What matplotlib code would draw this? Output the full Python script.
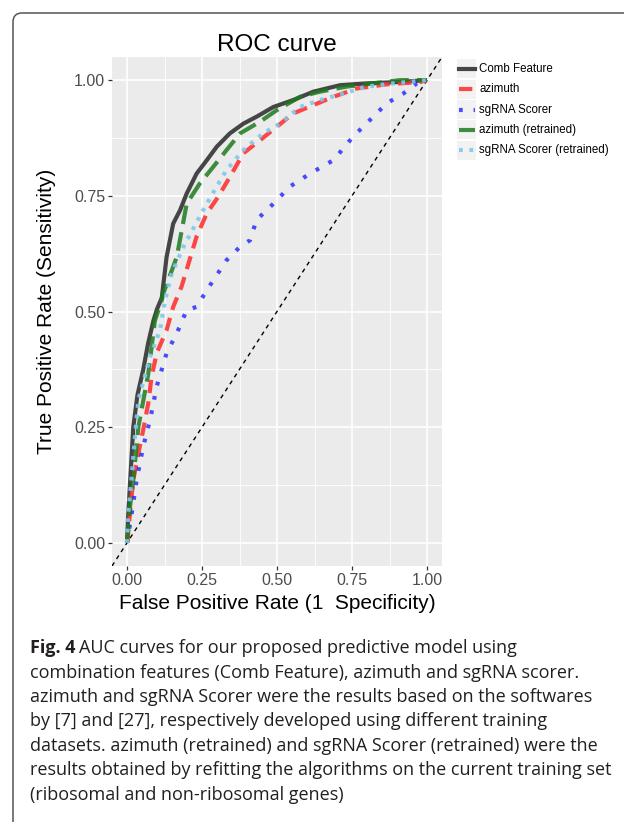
import numpy as np
import matplotlib
matplotlib.use("Agg")
import matplotlib.pyplot as plt
from matplotlib.patches import FancyBboxPatch, Rectangle
from matplotlib.lines import Line2D

# ── Datos ─────────────────────────────────────────────────────────────────────
SERIES = ["Comb Feature", "azimuth", "sgRNA Scorer",
          "azimuth (retrained)", "sgRNA Scorer (retrained)"]

comb_fpr = [0.0, 0.004, 0.012, 0.021, 0.035, 0.054, 0.070, 0.088, 0.100, 0.116, 0.132,
            0.154, 0.177, 0.199, 0.232, 0.266, 0.299, 0.343, 0.388, 0.432, 0.488,
            0.554, 0.621, 0.710, 0.799, 0.910, 1.0]
comb_tpr = [0.0, 0.060, 0.150, 0.251, 0.320, 0.374, 0.430, 0.480, 0.505, 0.530, 0.618,
            0.690, 0.719, 0.755, 0.798, 0.827, 0.856, 0.885, 0.906, 0.921, 0.942,
            0.957, 0.975, 0.989, 0.993, 0.996, 1.0]

azi_fpr = [0.0, 0.004, 0.012, 0.021, 0.040, 0.054, 0.071, 0.082, 0.099, 0.132, 0.154,
           0.182, 0.232, 0.266, 0.304, 0.343, 0.388, 0.443, 0.499, 0.554, 0.621,
           0.688, 0.766, 0.866, 0.977, 1.0]
azi_tpr = [0.0, 0.021, 0.080, 0.136, 0.200, 0.244, 0.302, 0.359, 0.410, 0.460, 0.510,
           0.554, 0.662, 0.712, 0.748, 0.791, 0.842, 0.870, 0.899, 0.928, 0.946,
           0.964, 0.982, 0.991, 0.996, 1.0]

sg_fpr = [0.0, 0.010, 0.021, 0.032, 0.054, 0.077, 0.099, 0.132, 0.166, 0.199, 0.232,
          0.266, 0.332, 0.377, 0.410, 0.432, 0.488, 0.543, 0.610, 0.688, 0.754,
          0.810, 0.866, 0.921, 0.966, 1.0]
sg_tpr = [0.0, 0.040, 0.086, 0.136, 0.208, 0.266, 0.338, 0.410, 0.453, 0.503, 0.510,
          0.546, 0.611, 0.640, 0.654, 0.698, 0.733, 0.770, 0.798, 0.827, 0.878,
          0.914, 0.950, 0.971, 0.993, 1.0]

azi_rt_fpr = [0.0, 0.004, 0.010, 0.021, 0.038, 0.055, 0.071, 0.093, 0.116, 0.121, 0.166,
              0.199, 0.243, 0.288, 0.332, 0.377, 0.443, 0.499, 0.577, 0.643, 0.732,
              0.821, 0.910, 1.0]
azi_rt_tpr = [0.0, 0.030, 0.078, 0.136, 0.251, 0.310, 0.366, 0.480, 0.525, 0.539, 0.618,
              0.733, 0.777, 0.813, 0.849, 0.885, 0.910, 0.935, 0.964, 0.975, 0.986,
              0.993, 1.0, 1.0]

sg_rt_fpr = [0.0, 0.004, 0.014, 0.025, 0.038, 0.077, 0.110, 0.127, 0.149, 0.188, 0.254,
             0.299, 0.332, 0.388, 0.454, 0.510, 0.577, 0.643, 0.721, 0.799, 0.888, 1.0]
sg_rt_tpr = [0.0, 0.063, 0.130, 0.220, 0.309, 0.402, 0.460, 0.525, 0.582, 0.640, 0.719,
             0.770, 0.806, 0.849, 0.885, 0.906, 0.942, 0.957, 0.971, 0.986, 0.993, 1.0]

CURVES = [(comb_fpr, comb_tpr), (azi_fpr, azi_tpr), (sg_fpr, sg_tpr),
          (azi_rt_fpr, azi_rt_tpr), (sg_rt_fpr, sg_rt_tpr)]
STYLES = [
    dict(color="#333333", ls="-", lw=3.0, alpha=0.9),
    dict(color="#FF3333", ls=(0, (3.2, 2.0)), lw=3.0, alpha=0.9),
    dict(color="#2222FF", ls=(0, (0.9, 2.6)), lw=3.0, alpha=0.8),
    dict(color="#1E7B1E", ls=(0, (4.5, 2.0)), lw=3.0, alpha=0.85),
    dict(color="#7EC8EE", ls=(0, (0.9, 1.6)), lw=3.0, alpha=0.9),
]

CAPTION = [
    "AUC curves for our proposed predictive model using",
    "combination features (Comb Feature), azimuth and sgRNA scorer.",
    "azimuth and sgRNA Scorer were the results based on the softwares",
    "by [7] and [27], respectively developed using different training",
    "datasets. azimuth (retrained) and sgRNA Scorer (retrained) were the",
    "results obtained by refitting the algorithms on the current training set",
    "(ribosomal and non-ribosomal genes)",
]

W, H = 624, 822
plt.rcParams["font.family"] = ["Liberation Sans", "DejaVu Sans"]

fig = plt.figure(figsize=(W / 100, H / 100), dpi=100)

def px(x, y):
    # píxeles (origen arriba-izquierda) -> fracción de figura
    return x / W, 1 - y / H

# ── Marco redondeado ──────────────────────────────────────────────────────────
frame = FancyBboxPatch((0.13, -0.5), 7.0, 8.59, boxstyle="round,pad=0,rounding_size=0.09",
                       transform=fig.dpi_scale_trans, fill=False, ec="#555555", lw=1.1)
fig.add_artist(frame)

# ── Panel ─────────────────────────────────────────────────────────────────────
x0, y0 = px(112, 566)
x1, y1 = px(442, 57)
ax = fig.add_axes([x0, y0, x1 - x0, y1 - y0])
ax.set_facecolor("#EBEBEB")
for s in ax.spines.values():
    s.set_visible(False)

ticks = [0.0, 0.25, 0.5, 0.75, 1.0]
ax.set_xticks(ticks)
ax.set_yticks(ticks)
ax.set_xticks([0.125, 0.375, 0.625, 0.875], minor=True)
ax.set_yticks([0.125, 0.375, 0.625, 0.875], minor=True)
ax.set_xticklabels([f"{t:.2f}" for t in ticks])
ax.set_yticklabels([f"{t:.2f}" for t in ticks])
ax.grid(which="major", color="white", lw=1.2)
ax.grid(which="minor", color="white", lw=0.6)
ax.set_axisbelow(True)
ax.tick_params(which="major", length=3, width=0.9, color="#333333",
               labelsize=11.5, labelcolor="#4D4D4D", pad=2)
ax.tick_params(which="minor", length=0)
ax.set_xlim(-0.05, 1.05)
ax.set_ylim(-0.05, 1.05)

ax.axline((0, 0), (1, 1), color="black", ls=(0, (3, 3)), lw=1.0)
for (fpr, tpr), st in zip(CURVES, STYLES):
    ax.plot(fpr, tpr, solid_capstyle="butt", **st)

ax.set_title("ROC curve", fontsize=17.5, pad=4)
ax.set_xlabel("False Positive Rate (1  Specificity)", fontsize=15, labelpad=4)
ax.set_ylabel("True Positive Rate (Sensitivity)", fontsize=15, labelpad=13)

# ── Leyenda manual (con fondo gris en las claves, estilo ggplot) ──────────────
for i, (name, st) in enumerate(zip(SERIES, STYLES)):
    cy = 69 + i * 20.3
    bx, by = px(457, cy + 9.5)
    fig.add_artist(Rectangle((bx, by), 19 / W, 19 / H, transform=fig.transFigure,
                             fc="#F2F2F2", ec="none"))
    lx0, ly = px(459, cy)
    lx1, _ = px(475, cy)
    fig.add_artist(Line2D([lx0, lx1], [ly, ly], transform=fig.transFigure, **st))
    tx, ty = px(479, cy)
    fig.text(tx, ty, name, fontsize=8.3, va="center", ha="left")

# ── Pie de figura ─────────────────────────────────────────────────────────────
cap_font = ["Open Sans", "DejaVu Sans"]
cap_size = 13.0
line_y = [648, 672.5, 697, 721.3, 745.7, 770.2, 794.6]
fx, fy = px(30, line_y[0])
bold = fig.text(fx, fy, "Fig. 4", fontsize=cap_size, fontweight="bold", family=cap_font,
                va="center", ha="left", color="#231F20")
fig.canvas.draw()
bb = bold.get_window_extent()
fig.text((bb.x1 + 4) / W, fy, CAPTION[0], fontsize=cap_size, family=cap_font,
         va="center", ha="left", color="#231F20")
for line, yy in zip(CAPTION[1:], line_y[1:]):
    fx, fy = px(30, yy)
    fig.text(fx, fy, line, fontsize=cap_size, family=cap_font,
             va="center", ha="left", color="#231F20")

fig.savefig("out.png", dpi=100)
